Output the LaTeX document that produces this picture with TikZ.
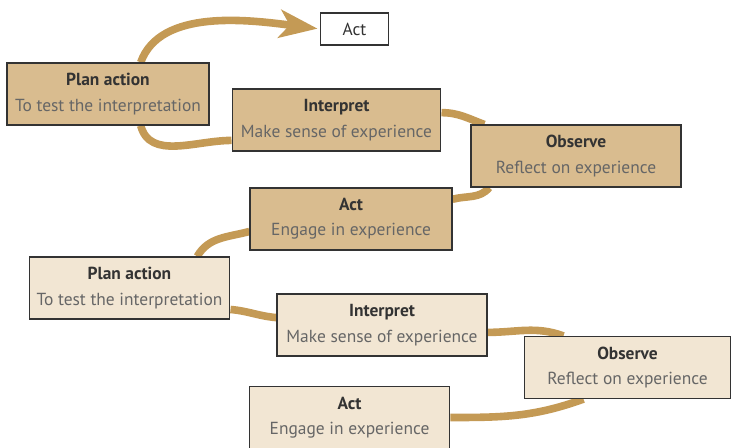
\documentclass[tikz,border=0pt]{standalone}
\usepackage{fontspec}
\setmainfont{PT Sans}
\usepackage{xcolor}
\usepackage{tikz}
\usetikzlibrary{arrows.meta, backgrounds}

\definecolor{tandark}{HTML}{D9BC8F}
\definecolor{tanlight}{HTML}{F2E6D3}
\definecolor{bronze}{HTML}{C49A55}
\definecolor{titlegrey}{HTML}{333333}
\definecolor{subgrey}{HTML}{666666}

\newcommand{\stagetext}[2]{\textbf{\color{titlegrey}#1}\\{\color{subgrey}#2}}

\tikzset{
    stagebox/.style={thick, draw=black!80, rectangle, minimum height=1.55cm, align=center, inner sep=1pt, font=\fontsize{12.4}{18}\selectfont},
    darkbox/.style={stagebox, fill=tandark},
    lightbox/.style={stagebox, fill=tanlight},
    cycleline/.style={line width=0.19cm, bronze},
}

\begin{document}
\begin{tikzpicture}[x=0.025cm, y=-0.025cm]
    \useasboundingbox (0, 0) rectangle (732, 448);

    \node[thick, draw=black!80, fill=white, rectangle, minimum width=1.68cm, minimum height=0.8cm, font=\fontsize{12.4}{18}\selectfont, text=titlegrey] at (354.5, 29) (actT) {Act};

    \node[darkbox, minimum width=5.05cm] at (108, 94) (planD) {\stagetext{Plan action}{To test the interpretation}};
    \node[darkbox, minimum width=5.22cm] at (336.5, 120) (interpD) {\stagetext{Interpret}{Make sense of experience}};
    \node[darkbox, minimum width=5.25cm] at (576, 156) (obsD) {\stagetext{Observe}{Reflect on experience}};
    \node[darkbox, minimum width=5.05cm] at (351, 219) (actD) {\stagetext{Act}{Engage in experience}};

    \node[lightbox, minimum width=5.02cm] at (129.5, 288) (planL) {\stagetext{Plan action}{To test the interpretation}};
    \node[lightbox, minimum width=5.25cm] at (382, 325) (interpL) {\stagetext{Interpret}{Make sense of experience}};
    \node[lightbox, minimum width=5.15cm] at (627.5, 367.5) (obsL) {\stagetext{Observe}{Reflect on experience}};
    \node[lightbox, minimum width=5.02cm] at (349.5, 417.5) (actL) {\stagetext{Act}{Engage in experience}};

    \begin{scope}[on background layer]
        \draw[cycleline] (actL.east) to[out=0, in=200] ([xshift=-1.1cm]obsL.south);
        \draw[cycleline] (interpL.-4) to[out=0, in=160] ([xshift=-1.6cm]obsL.north);
        \draw[cycleline] (planL.-12) to[out=-5, in=175] (interpL.176);
        \draw[cycleline] (planL.25) to[out=60, in=195] (actD.187);
        \draw[cycleline] (actD.11) to[out=15, in=230] (obsD.200);
        \draw[cycleline] (interpD.4) to[out=0, in=160] (obsD.161);
        \draw[cycleline] (planD.-44) to[out=-75, in=180] (interpD.191);
        \draw[cycleline, -{Stealth[length=0.95cm, width=0.7cm, inset=0.25cm]}, shorten >=2pt] (planD.44) .. controls (160, 8) and (250, 20) .. (actT.west);
    \end{scope}
\end{tikzpicture}
\end{document}
